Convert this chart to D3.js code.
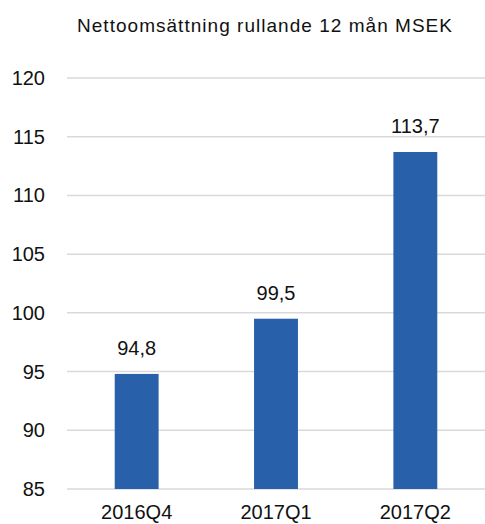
<!DOCTYPE html>
<html>
<head>
<meta charset="utf-8">
<script src="https://cdn.jsdelivr.net/npm/d3@7"></script>
<style>
  html, body { margin: 0; padding: 0; background: #fff; }
  svg { display: block; }
  text { font-family: "Liberation Sans", Arial, Helvetica, sans-serif; fill: #111; }
</style>
</head>
<body>
<svg id="chart" width="485" height="524"></svg>
<script>
const title = "Nettoomsättning rullande 12 mån MSEK";
const categories = ["2016Q4", "2017Q1", "2017Q2"];
const values = [94.8, 99.5, 113.7];
const valueLabels = ["94,8", "99,5", "113,7"];
const yTicks = [85, 90, 95, 100, 105, 110, 115, 120];

const svg = d3.select("#chart");

const x = d3.scaleBand().domain(categories).range([67, 485]).padding(0);
const y = d3.scaleLinear().domain([85, 120]).range([489, 78]);
const barW = x.bandwidth() * 0.315;

// gridlines
svg.append("g").selectAll("line").data(yTicks).join("line")
  .attr("x1", 67).attr("x2", 485)
  .attr("y1", d => y(d)).attr("y2", d => y(d))
  .attr("stroke", "#d9d9d9").attr("stroke-width", 1.5);

// y labels
svg.append("g").selectAll("text").data(yTicks).join("text")
  .attr("x", 45).attr("y", d => y(d) + 7)
  .attr("text-anchor", "end")
  .style("font-size", "20px")
  .text(d => d);

// bars
svg.append("g").selectAll("rect").data(values).join("rect")
  .attr("x", (d, i) => x(categories[i]) + x.bandwidth() / 2 - barW / 2)
  .attr("width", barW)
  .attr("y", d => y(d))
  .attr("height", d => y(85) - y(d))
  .attr("fill", "#2861a9");

// value labels
svg.append("g").selectAll("text").data(values).join("text")
  .attr("x", (d, i) => x(categories[i]) + x.bandwidth() / 2)
  .attr("y", d => y(d) - 19)
  .attr("text-anchor", "middle")
  .style("font-size", "20px")
  .text((d, i) => valueLabels[i]);

// category labels
svg.append("g").selectAll("text").data(categories).join("text")
  .attr("x", d => x(d) + x.bandwidth() / 2)
  .attr("y", 519)
  .attr("text-anchor", "middle")
  .style("font-size", "20px")
  .text(d => d);

// title
svg.append("text")
  .attr("x", 77).attr("y", 32)
  .attr("textLength", 375).attr("lengthAdjust", "spacing")
  .style("font-size", "19px")
  .text(title);
</script>
</body>
</html>
